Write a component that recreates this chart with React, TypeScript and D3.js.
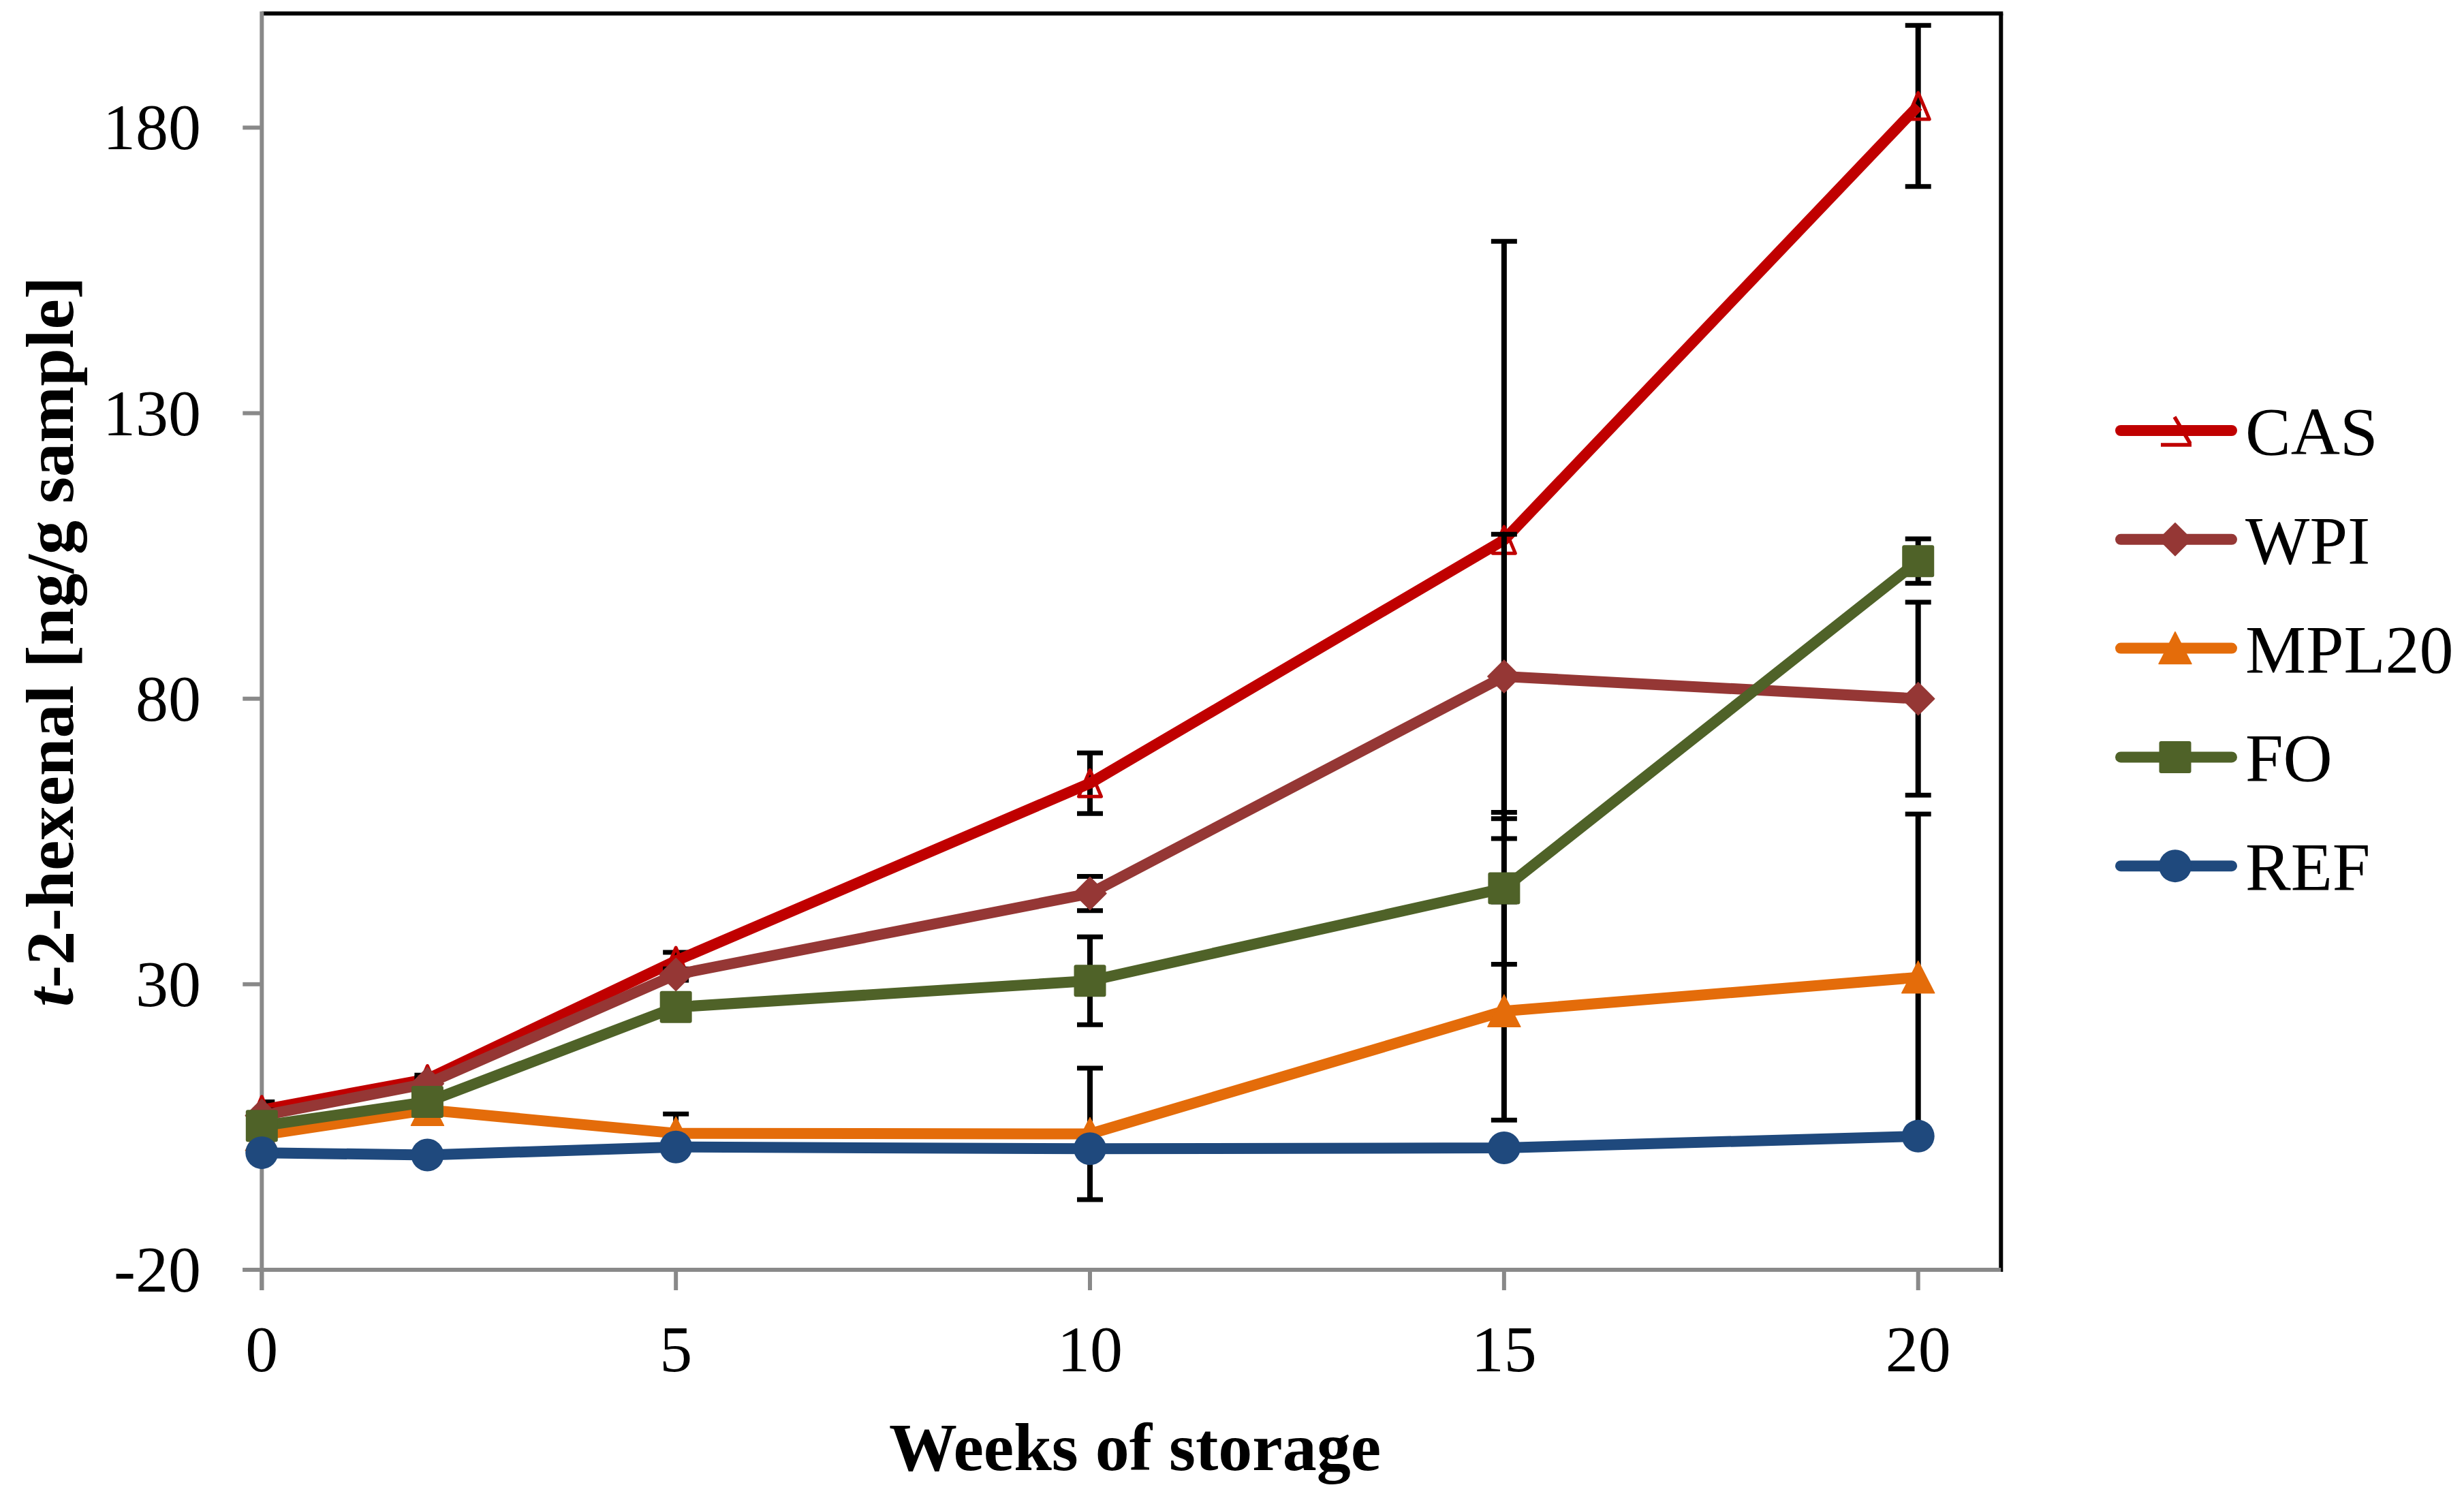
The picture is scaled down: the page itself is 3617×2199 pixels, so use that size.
import React from "react";
import * as d3 from "d3";

const weeks = [0, 2, 5, 10, 15, 20];
const seriesNames = ["CAS", "WPI", "MPL20", "FO", "REF"];
const casValues = [8.0, 13.4, 34.1, 65.2, 107.8, 183.8];
const casErrors = [1.4, 0.7, 1.5, 5.3, 52.3, 14.1];
const wpiValues = [7.0, 12.6, 31.7, 45.9, 83.9, 80.0];
const wpiErrors = [1.0, 1.0, 1.0, 3.0, 24.9, 16.9];
const mplValues = [3.6, 8.0, 3.9, 3.8, 25.3, 31.2];
const mplErrors = [1.0, 1.0, 3.4, 11.5, 19.1, 28.6];
const foValues = [5.2, 9.4, 26.0, 30.6, 46.8, 104.1];
const foErrors = [1.0, 1.0, 1.0, 7.7, 13.3, 3.9];
const refValues = [0.5, 0.1, 1.5, 1.2, 1.35, 3.4];
const refErrors = [0.5, 0.5, 0.5, 0.5, 0.5, 0.5];
const xTicks = [0, 5, 10, 15, 20];
const yTicks = [-20, 30, 80, 130, 180];
const colors = ["#C00000", "#953735", "#E46C0A", "#4F6228", "#1F497D"];
const markers = ["openTriangle", "diamond", "triangle", "square", "circle"];

const W = 3617;
const H = 2199;
const plot = { left: 384.3, top: 19.7, right: 2937.3, bottom: 1864 };
const FONT = "'Liberation Serif', 'Times New Roman', serif";

function markerPath(kind: string): string {
  switch (kind) {
    case "openTriangle":
      return "M0,-19.5L16.5,19.5L-16.5,19.5Z";
    case "triangle":
      return "M0,-24L24,23L-24,23Z";
    case "diamond":
      return "M0,-24L24,0L0,24L-24,0Z";
    default:
      return "";
  }
}

function Marker({ kind, color, x, y }: { kind: string; color: string; x: number; y: number }) {
  if (kind === "circle") return <circle cx={x} cy={y} r={24} fill={color} />;
  if (kind === "square")
    return <rect x={x - 23.5} y={y - 23.5} width={47} height={47} rx={3} fill={color} />;
  if (kind === "openTriangle")
    return (
      <path
        d={markerPath(kind)}
        transform={`translate(${x},${y})`}
        fill="none"
        stroke={color}
        strokeWidth={5}
        strokeLinejoin="round"
      />
    );
  return (
    <path
      d={markerPath(kind)}
      transform={`translate(${x},${y})`}
      fill={color}
      stroke={color}
      strokeWidth={1.5}
      strokeLinejoin="round"
    />
  );
}

export default function App() {
  const x = d3.scaleLinear().domain([0, 21]).range([plot.left, plot.right]);
  const y = d3.scaleLinear().domain([-20, 200]).range([plot.bottom, plot.top]);
  const values = [casValues, wpiValues, mplValues, foValues, refValues];
  const errors = [casErrors, wpiErrors, mplErrors, foErrors, refErrors];
  const line = d3
    .line<number>()
    .x((_, i) => x(weeks[i]))
    .y((d) => y(d));

  const legendY0 = 632;
  const legendStep = 159.8;
  const legendX1 = 3113;
  const legendX2 = 3276;
  const legendCx = 3193;

  return (
    <svg
      width={W}
      height={H}
      viewBox={`0 0 ${W} ${H}`}
      style={{ position: "absolute", left: 0, top: 0, display: "block", background: "#fff" }}
    >
      <defs>
        <clipPath id="plotClip">
          <rect x={plot.left} y={plot.top} width={plot.right - plot.left} height={plot.bottom - plot.top} />
        </clipPath>
      </defs>
      <rect x={0} y={0} width={W} height={H} fill="#fff" />

      {/* frame: top & right black */}
      <line x1={plot.left} x2={plot.right + 3} y1={plot.top} y2={plot.top} stroke="#000" strokeWidth={6} />
      <line x1={plot.right} x2={plot.right} y1={plot.top} y2={plot.bottom + 3} stroke="#000" strokeWidth={6} />

      {/* y axis */}
      <line x1={plot.left} x2={plot.left} y1={plot.top - 3} y2={plot.bottom + 30} stroke="#898989" strokeWidth={6} />
      {yTicks.map((t) => (
        <g key={t}>
          <line x1={plot.left - 28} x2={plot.left} y1={y(t)} y2={y(t)} stroke="#898989" strokeWidth={6} />
          <text
            x={295}
            y={y(t) + 32}
            textAnchor="end"
            fontFamily={FONT}
            fontSize={96}
            fill="#000"
          >
            {t}
          </text>
        </g>
      ))}

      {/* x axis */}
      <line x1={plot.left - 28} x2={plot.right} y1={plot.bottom} y2={plot.bottom} stroke="#898989" strokeWidth={6} />
      {xTicks.map((t) => (
        <g key={t}>
          <line x1={x(t)} x2={x(t)} y1={plot.bottom} y2={plot.bottom + 30} stroke="#898989" strokeWidth={6} />
          <text x={x(t)} y={2013} textAnchor="middle" fontFamily={FONT} fontSize={96} fill="#000">
            {t}
          </text>
        </g>
      ))}

      {/* axis titles */}
      <text x={1666} y={2158} textAnchor="middle" fontFamily={FONT} fontSize={100} fontWeight="bold" fill="#000">
        Weeks of storage
      </text>
      <text
        transform={`translate(107,${(plot.top + plot.bottom) / 2}) rotate(-90)`}
        textAnchor="middle"
        fontFamily={FONT}
        fontSize={100}
        fontWeight="bold"
        fill="#000"
      >
        <tspan fontStyle="italic">t</tspan>
        <tspan>-2-hexenal [ng/g sample]</tspan>
      </text>

      {/* series */}
      {values.map((vals, si) => (
        <g key={seriesNames[si]}>
          <g clipPath="url(#plotClip)">
            {vals.map((v, i) => {
              const e = errors[si][i];
              const cx = x(weeks[i]);
              return (
                <g key={i}>
                  <line x1={cx} x2={cx} y1={y(v + e)} y2={y(v - e)} stroke="#000" strokeWidth={8} />
                  <line x1={cx - 19} x2={cx + 19} y1={y(v + e)} y2={y(v + e)} stroke="#000" strokeWidth={7} />
                  <line x1={cx - 19} x2={cx + 19} y1={y(v - e)} y2={y(v - e)} stroke="#000" strokeWidth={7} />
                </g>
              );
            })}
          </g>
          <path d={line(vals) || ""} fill="none" stroke={colors[si]} strokeWidth={16} strokeLinejoin="round" />
          {vals.map((v, i) => (
            <Marker key={i} kind={markers[si]} color={colors[si]} x={x(weeks[i])} y={y(v)} />
          ))}
        </g>
      ))}

      {/* legend */}
      {seriesNames.map((name, si) => {
        const ly = legendY0 + si * legendStep;
        return (
          <g key={name}>
            <line
              x1={legendX1}
              x2={legendX2}
              y1={ly}
              y2={ly}
              stroke={colors[si]}
              strokeWidth={16}
              strokeLinecap="round"
            />
            {markers[si] === "openTriangle" ? (
              <path
                d="M-1,-20L22,19M-21,21L24,21"
                transform={`translate(${legendCx},${ly})`}
                fill="none"
                stroke={colors[si]}
                strokeWidth={5.5}
              />
            ) : (
              <Marker kind={markers[si]} color={colors[si]} x={legendCx} y={ly} />
            )}
            <text x={3296} y={ly + 35} fontFamily={FONT} fontSize={100} fill="#000">
              {name}
            </text>
          </g>
        );
      })}
    </svg>
  );
}
